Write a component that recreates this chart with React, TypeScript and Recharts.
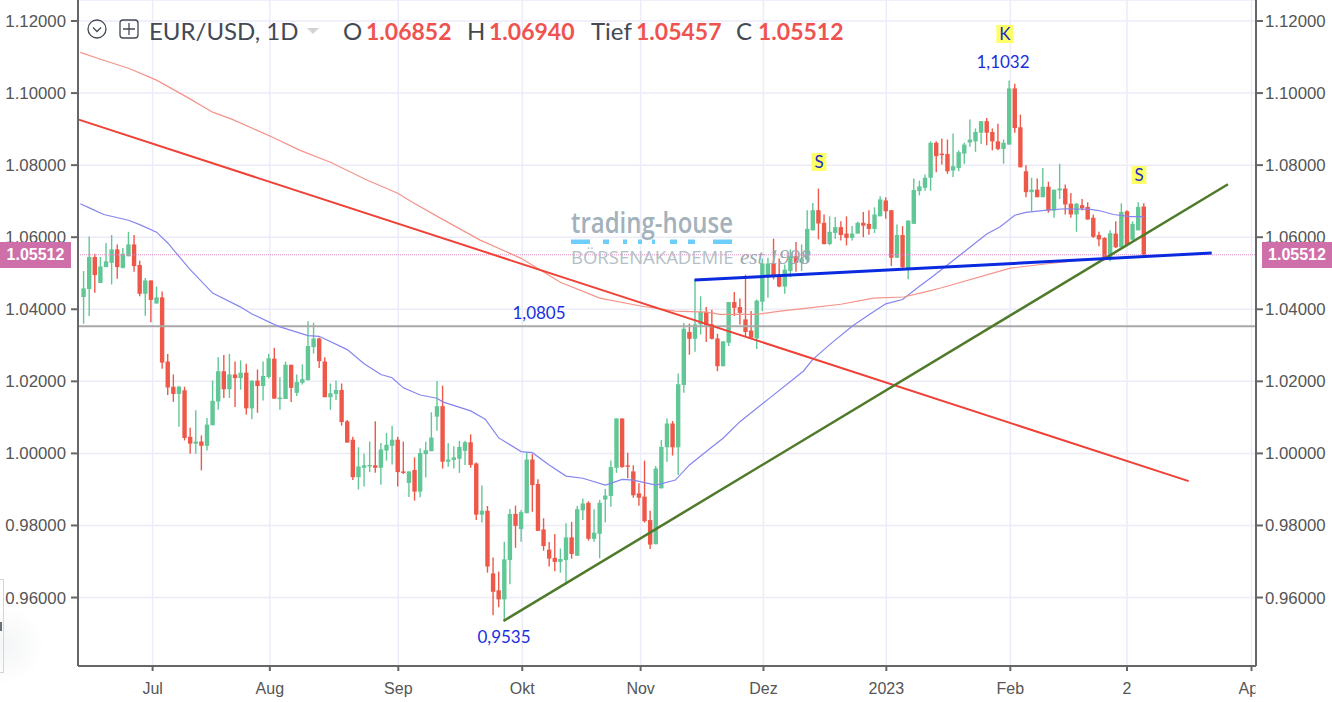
import { ComposedChart, Bar, Line, XAxis, YAxis, CartesianGrid, ReferenceLine } from "recharts";

const opens = [
  1.0434, 1.0456, 1.0545, 1.0473, 1.0517, 1.0529, 1.0566, 1.0515, 1.0547, 1.058,
  1.0523, 1.0443, 1.048, 1.0416, 1.0433, 1.0255, 1.0185, 1.0165, 1.0175, 1.0046,
  1.0027, 1.0033, 1.0021, 1.0078, 1.0144, 1.0228, 1.0178, 1.0219, 1.0209, 1.0224,
  1.0125, 1.0202, 1.0187, 1.0212, 1.0263, 1.0152, 1.0151, 1.0246, 1.0168, 1.0196,
  1.0203, 1.0295, 1.0319, 1.0255, 1.0156, 1.0165, 1.0176, 1.0089, 1.0038, 0.9934,
  0.996, 0.9965, 0.9967, 0.996, 1.0008, 1.0021, 1.0038, 0.995, 0.9918, 0.9954,
  0.9894, 0.9998, 1.0006, 1.0102, 1.0131, 0.9977, 0.9982, 0.9985, 1.0007, 1.0031,
  0.9972, 0.983, 0.9841, 0.9667, 0.962, 0.9595, 0.9704, 0.9832, 0.979, 0.9834,
  0.9983, 0.9915, 0.9789, 0.9733, 0.971, 0.9699, 0.9704, 0.9767, 0.9716, 0.9842,
  0.9863, 0.9763, 0.9777, 0.9872, 0.9882, 0.996, 1.0097, 0.9967, 0.995, 0.9889,
  0.988, 0.9815, 0.9748, 0.9903, 1.0017, 1.0083, 1.0017, 1.019, 1.0337, 1.0318,
  1.0358, 1.0393, 1.0358, 1.0319, 1.0242, 1.0307, 1.042, 1.0406, 1.0372, 1.0341,
  1.0319, 1.0421, 1.0495, 1.0527, 1.0496, 1.0463, 1.0506, 1.0547, 1.0529, 1.0538,
  1.0619, 1.0675, 1.064, 1.0581, 1.0612, 1.0628, 1.061, 1.0598, 1.061, 1.064,
  1.0637, 1.0623, 1.0658, 1.0702, 1.0675, 1.0543, 1.0606, 1.0513, 1.0637, 1.0728,
  1.0737, 1.0765, 1.0862, 1.0832, 1.0831, 1.0785, 1.0792, 1.0832, 1.0863, 1.0866,
  1.089, 1.0922, 1.0892, 1.0866, 1.0845, 1.0857, 1.1013, 1.0905, 1.0783, 1.0725,
  1.0732, 1.0711, 1.074, 1.0674, 1.073, 1.0735, 1.0693, 1.0663, 1.0689, 1.0684,
  1.0654, 1.0606, 1.0598, 1.0545, 1.061, 1.0572, 1.0672, 1.0593, 1.0619, 1.06852,
];

const closes = [
  1.0458, 1.0545, 1.0495, 1.0519, 1.0533, 1.0566, 1.0517, 1.0554, 1.058, 1.052,
  1.0443, 1.048, 1.0426, 1.0433, 1.0252, 1.0183, 1.0165, 1.0185, 1.0043, 1.0027,
  1.0033, 1.0021, 1.008, 1.0146, 1.0228, 1.0178, 1.0219, 1.0209, 1.0224, 1.0125,
  1.0202, 1.0187, 1.0215, 1.0264, 1.0152, 1.0155, 1.0246, 1.0182, 1.0198, 1.0206,
  1.0298, 1.0319, 1.0256, 1.0156, 1.0167, 1.0176, 1.0087, 1.003, 0.9934, 0.9964,
  0.9967, 0.9968, 0.996, 1.0011, 1.0024, 1.0038, 0.9948, 0.9946, 0.995, 0.9894,
  1.0001, 1.0009, 1.0044, 1.0131, 0.9977, 0.9983, 0.9989, 1.0018, 1.0031, 0.9968,
  0.983, 0.9841, 0.9686, 0.9616, 0.9595, 0.9706, 0.9832, 0.9799, 0.9837, 0.9983,
  0.9912, 0.9785, 0.9743, 0.9708, 0.9699, 0.9707, 0.9767, 0.9721, 0.9845, 0.9861,
  0.9763, 0.978, 0.9863, 0.9883, 0.9962, 1.0097, 0.9962, 0.9963, 0.9884, 0.9877,
  0.9812, 0.9747, 0.9958, 1.0018, 1.0083, 1.0017, 1.0192, 1.0346, 1.0318, 1.0358,
  1.0393, 1.0356, 1.0318, 1.0242, 1.0311, 1.042, 1.0404, 1.039, 1.0337, 1.0321,
  1.0424, 1.0527, 1.0527, 1.0492, 1.0463, 1.051, 1.0547, 1.0529, 1.0541, 1.0623,
  1.0675, 1.0638, 1.0581, 1.0615, 1.0628, 1.0606, 1.0598, 1.061, 1.064, 1.0632,
  1.0623, 1.0663, 1.0705, 1.0672, 1.0543, 1.0606, 1.0517, 1.0646, 1.0731, 1.0741,
  1.0765, 1.0862, 1.0825, 1.0829, 1.0783, 1.0797, 1.0836, 1.0857, 1.0871, 1.0892,
  1.0922, 1.089, 1.0866, 1.0845, 1.0862, 1.1013, 1.0903, 1.0794, 1.0725, 1.0732,
  1.0711, 1.074, 1.0674, 1.0732, 1.0735, 1.0691, 1.0663, 1.0693, 1.068, 1.0649,
  1.0601, 1.0594, 1.0538, 1.0611, 1.0572, 1.067, 1.0578, 1.0637, 1.0684, 1.05512,
];

const highs = [
  1.0506, 1.0602, 1.0554, 1.0545, 1.0584, 1.0606, 1.058, 1.057, 1.0615, 1.0606,
  1.0535, 1.0487, 1.048, 1.0463, 1.0449, 1.0276, 1.0219, 1.0188, 1.0185, 1.0071,
  1.012, 1.005, 1.0098, 1.0202, 1.0267, 1.0273, 1.0276, 1.0255, 1.0258, 1.0249,
  1.0202, 1.0233, 1.0255, 1.0276, 1.0293, 1.0211, 1.0255, 1.0246, 1.0219, 1.0247,
  1.0367, 1.0363, 1.0322, 1.0267, 1.0194, 1.0202, 1.0194, 1.0093, 1.0046, 1.0017,
  0.9999, 1.0033, 1.0089, 1.0029, 1.0057, 1.0076, 1.0046, 1.0033, 0.995, 0.9989,
  1.0014, 1.0032, 1.0114, 1.0201, 1.0188, 1.0028, 1.002, 1.0035, 1.0035, 1.0053,
  0.9975, 0.9911, 0.9854, 0.9711, 0.9672, 0.9755, 0.9846, 0.9855, 0.9843, 1.0002,
  0.9998, 0.9928, 0.982, 0.9754, 0.9776, 0.9736, 0.9806, 0.981, 0.9854, 0.9875,
  0.9867, 0.9845, 0.9871, 0.9901, 0.998, 1.0097, 1.0097, 1.0002, 0.9967, 0.9917,
  0.998, 0.9841, 0.9965, 1.0037, 1.0097, 1.009, 1.0222, 1.0362, 1.036, 1.0481,
  1.0436, 1.0406, 1.0399, 1.0332, 1.0311, 1.042, 1.0448, 1.043, 1.0496, 1.0395,
  1.0427, 1.0541, 1.0543, 1.0596, 1.0541, 1.0524, 1.0566, 1.0587, 1.058, 1.0675,
  1.0695, 1.0735, 1.0663, 1.0658, 1.0656, 1.0644, 1.0658, 1.0631, 1.0643, 1.067,
  1.0675, 1.0683, 1.0714, 1.0711, 1.0675, 1.0635, 1.0631, 1.0647, 1.0763, 1.0757,
  1.0774, 1.0866, 1.0866, 1.0874, 1.0871, 1.0888, 1.0841, 1.0862, 1.0927, 1.0902,
  1.0922, 1.0931, 1.0902, 1.0915, 1.0871, 1.1035, 1.1026, 1.094, 1.08, 1.0765,
  1.0763, 1.0792, 1.0754, 1.0732, 1.0804, 1.0746, 1.0723, 1.0695, 1.0706, 1.0697,
  1.0663, 1.0615, 1.06, 1.0619, 1.0644, 1.0694, 1.0675, 1.0644, 1.0697, 1.0694,
];

const lows = [
  1.036, 1.0381, 1.0446, 1.0473, 1.0517, 1.0469, 1.0485, 1.0513, 1.0547, 1.0504,
  1.0436, 1.0382, 1.0364, 1.0416, 1.0235, 1.0162, 1.0143, 1.0074, 1.0036, 0.9999,
  0.9999, 0.9953, 1.0008, 1.0078, 1.0121, 1.0154, 1.0154, 1.0129, 1.0177, 1.0108,
  1.0095, 1.0113, 1.0147, 1.0208, 1.0152, 1.0121, 1.0151, 1.0143, 1.0159, 1.0191,
  1.0203, 1.0277, 1.0237, 1.0156, 1.0121, 1.0148, 1.0077, 1.003, 0.9926, 0.99,
  0.9908, 0.9948, 0.9946, 0.9913, 0.998, 0.9969, 0.9908, 0.9943, 0.9879, 0.9869,
  0.9878, 0.9933, 1.0006, 1.0063, 0.9958, 0.9963, 0.9958, 0.9946, 0.9968, 0.996,
  0.9815, 0.9808, 0.9669, 0.9551, 0.9573, 0.9535, 0.9637, 0.9738, 0.9755, 0.9834,
  0.9838, 0.9785, 0.973, 0.9686, 0.9673, 0.9669, 0.9636, 0.9708, 0.9716, 0.9815,
  0.9758, 0.9755, 0.9709, 0.9808, 0.9852, 0.9946, 0.996, 0.9931, 0.9877, 0.9855,
  0.9808, 0.9735, 0.9748, 0.9903, 0.9977, 0.9994, 0.994, 1.0168, 1.0274, 1.0282,
  1.033, 1.0309, 1.0316, 1.0228, 1.0242, 1.0298, 1.0381, 1.0358, 1.0325, 1.0321,
  1.029, 1.0395, 1.0432, 1.0483, 1.0461, 1.0443, 1.0489, 1.0504, 1.0506, 1.0529,
  1.0619, 1.0594, 1.058, 1.0578, 1.0596, 1.0591, 1.0577, 1.0591, 1.061, 1.06,
  1.0607, 1.0612, 1.0658, 1.0651, 1.052, 1.0543, 1.0515, 1.0483, 1.0637, 1.0716,
  1.0729, 1.0729, 1.078, 1.0802, 1.0776, 1.0767, 1.0783, 1.0804, 1.0851, 1.0837,
  1.0859, 1.0855, 1.0841, 1.0841, 1.0804, 1.0857, 1.089, 1.0794, 1.0711, 1.0672,
  1.0711, 1.0711, 1.0668, 1.0654, 1.0706, 1.0663, 1.0654, 1.0615, 1.0674, 1.0649,
  1.0598, 1.0575, 1.0536, 1.0533, 1.057, 1.057, 1.0575, 1.0591, 1.0619, 1.05457,
];

// moving averages, read at the bends: [bar index, price]
const blueMa = [
  [0.4, 1.0693], [2.2, 1.068], [4.6, 1.0663], [9, 1.0647], [11, 1.0635], [14, 1.0614], [16, 1.0584],
  [18, 1.0547], [20, 1.051], [24, 1.0445], [29, 1.0406], [31, 1.0387], [34, 1.0365], [36, 1.0351],
  [41, 1.0327], [43, 1.0325], [48, 1.0288], [51, 1.0249], [54, 1.0219], [56, 1.021], [58, 1.0182],
  [61, 1.0162], [64, 1.0153], [65, 1.0143], [70, 1.0118], [72.6, 1.0095], [75, 1.0043], [79, 1.0005],
  [81, 1.0002], [84, 0.9968], [87, 0.9937], [90, 0.9931], [94, 0.9912], [95, 0.9917], [97, 0.9928],
  [99, 0.9926], [103, 0.9912], [106.5, 0.9926], [109, 0.9968], [113, 1.0018], [115, 1.0042], [118, 1.0088],
  [123, 1.015], [129.3, 1.0228], [131, 1.0261], [134, 1.0302], [138, 1.0353], [141, 1.0385], [144, 1.0415],
  [147, 1.0427], [150, 1.0464], [152, 1.0487], [155.5, 1.0529], [158.5, 1.0566], [162, 1.0609], [164.4, 1.0629],
  [167, 1.0661], [169, 1.0669], [172.7, 1.0675], [176, 1.0679], [180.5, 1.0677], [182, 1.0674], [184.6, 1.0663],
  [187.6, 1.0657], [190, 1.0657],
];

const pinkMa = [
  [0.4, 1.1113], [4, 1.1094], [9, 1.1069], [14, 1.1036], [19.5, 1.0988], [24, 1.0947], [27.5, 1.0927],
  [34.3, 1.088], [39.6, 1.0841], [45, 1.0808], [51.6, 1.0758], [57, 1.0722], [59.3, 1.07], [64.6, 1.0653],
  [71.7, 1.0592], [78.9, 1.0542], [86, 1.0475], [93, 1.0431], [100.3, 1.0409], [106.5, 1.0395], [112, 1.0392],
  [114.5, 1.0386], [121, 1.0386], [125.2, 1.0395], [130, 1.0403], [136, 1.0414], [141.8, 1.0431], [147.2, 1.0434],
  [150.7, 1.0447], [153.8, 1.0459], [166.2, 1.0514], [172, 1.0525], [178.7, 1.0536], [188, 1.0545], [190.3, 1.055],
];

const redTrend = [{ x: 0, y: 1.0927 }, { x: 198, y: 0.9923 }];
const greenTrend = [{ x: 75.85, y: 0.9535 }, { x: 205, y: 1.0747 }];
const blueTrend = [{ x: 109.9, y: 1.0481 }, { x: 202.1, y: 1.0556 }];
const grayLevel = 1.0353;
const lastPrice = 1.05512;

const priceTicks = [0.96, 0.98, 1.0, 1.02, 1.04, 1.06, 1.08, 1.1, 1.12];
const monthTicks = [13.3, 34.2, 57.1, 79.2, 100.3, 122.2, 144.1, 166.2, 187, 209.2];
const monthLabels = ["Jul", "Aug", "Sep", "Okt", "Nov", "Dez", "2023", "Feb", "2", "Ap"];

const candles = opens.map((open, n) => ({
  i: n + 1,
  open,
  close: closes[n],
  high: highs[n],
  low: lows[n],
  range: [lows[n], highs[n]],
}));
const blueRows = blueMa.map(([i, v]) => ({ i, blue: v }));
const pinkRows = pinkMa.map(([i, v]) => ({ i, pink: v }));

const UP = "#62c796";
const DOWN = "#ee5849";
const BODY = 4.4;
const AXIS_FONT = "'Liberation Sans', Arial, sans-serif";

const Candle = (props: any) => {
  const { x, y, width, height, payload } = props;
  if (!payload) return null;
  const perUnit = height / (payload.high - payload.low || 1);
  const yOf = (p: number) => y + (payload.high - p) * perUnit;
  const top = yOf(Math.max(payload.open, payload.close));
  const bottom = yOf(Math.min(payload.open, payload.close));
  const color = payload.close >= payload.open ? UP : DOWN;
  const mid = x + width / 2;
  return (
    <g>
      <line x1={mid} x2={mid} y1={y} y2={y + height} stroke={color} strokeWidth={1.4} />
      <rect x={mid - BODY / 2} y={top} width={BODY} height={Math.max(bottom - top, 1.5)} fill={color} />
    </g>
  );
};

const MonthTick = (props: any) => {
  const { x, y, payload } = props;
  const label = monthLabels[monthTicks.indexOf(payload.value)];
  if (label === "Ap") {
    return (
      <svg x={x - 13} y={y} width={17} height={30}>
        <text x={0} y={21} fontSize={16} fill="#555" fontFamily={AXIS_FONT}>{label}</text>
      </svg>
    );
  }
  return (
    <text x={x} y={y + 21} textAnchor="middle" fontSize={16} fill="#555" fontFamily={AXIS_FONT}>{label}</text>
  );
};

const Note = ({ x, y, text, bg }: { x: number; y: number; text: string; bg?: string }) => (
  <div style={{
    position: "absolute", left: x, top: y, transform: "translate(-50%, -50%)",
    fontFamily: "Lato, sans-serif", fontSize: 17, color: bg ? "#1c2bc0" : "#1a2fe0", lineHeight: "18px",
    background: bg, padding: bg ? "0 3px" : 0, whiteSpace: "nowrap",
  }}>{text}</div>
);

const PriceTag = ({ left, width }: { left: number; width: number }) => (
  <div style={{
    position: "absolute", left, top: 242, width, height: 26, background: "#cf6fa9", color: "#fff",
    fontFamily: AXIS_FONT, fontSize: 16, fontWeight: 700, lineHeight: "26px", textAlign: "center",
  }}>1.05512</div>
);

const HeadText = ({ x, text, red }: { x: number; text: string; red?: boolean }) => (
  <div style={{
    position: "absolute", left: x, top: 15, fontFamily: "Lato, sans-serif", fontSize: red ? 23 : 24, lineHeight: "32px",
    color: red ? "#ef5350" : "#434a54", fontWeight: red ? 700 : 400, whiteSpace: "nowrap",
  }}>{text}</div>
);

const App = () => (
  <div style={{ position: "absolute", left: 0, top: 0, width: 1332, height: 702, background: "#fff", overflow: "hidden" }}>
    <div style={{ position: "absolute", left: -35, top: 605, width: 80, height: 80, background: "radial-gradient(circle, #f4f5f6 0%, #ffffff 70%)" }} />
    <div style={{ position: "absolute", left: -1, top: 579, width: 3, height: 92, border: "1px solid #d2d5d9" }} />
    <div style={{ position: "absolute", left: 0, top: 622, width: 2, height: 9, background: "#6a7078" }} />

    <ComposedChart width={1332} height={702} data={candles} margin={{ top: 0, right: 0, bottom: 0, left: 0 }} style={{ position: "absolute", left: 0, top: 0 }}>
      <CartesianGrid yAxisId="left" stroke="#ecebf8" strokeWidth={1.5} />
      <XAxis
        dataKey="i"
        type="number"
        domain={[0, 210]}
        ticks={monthTicks}
        interval={0}
        allowDataOverflow
        height={36}
        stroke="#666"
        strokeWidth={2}
        tickSize={5}
        tick={<MonthTick />}
      />
      <YAxis
        yAxisId="left"
        orientation="left"
        width={78}
        domain={[0.941, 1.12583]}
        ticks={priceTicks}
        interval={0}
        allowDataOverflow
        stroke="#666"
        strokeWidth={2}
        tickSize={7}
        tickMargin={5}
        tickFormatter={(v: number) => v.toFixed(5)}
        tick={{ fontSize: 16.8, fill: "#555", fontFamily: AXIS_FONT }}
      />
      <YAxis
        yAxisId="right"
        orientation="right"
        width={76}
        domain={[0.941, 1.12583]}
        ticks={priceTicks}
        interval={0}
        allowDataOverflow
        stroke="#666"
        strokeWidth={2}
        tickSize={7}
        tickFormatter={(v: number) => v.toFixed(5)}
        tick={{ fontSize: 16.8, fill: "#555", fontFamily: AXIS_FONT }}
      />
      <ReferenceLine yAxisId="left" y={grayLevel} stroke="#a9a9a9" strokeWidth={2} />
      <ReferenceLine yAxisId="left" y={lastPrice} stroke="#e08cc0" strokeDasharray="1 1" strokeWidth={1} />
      <Bar yAxisId="left" dataKey="range" barSize={4} shape={<Candle />} isAnimationActive={false} />
      <Line yAxisId="left" data={blueRows} dataKey="blue" stroke="#8585f0" strokeWidth={1.2} dot={false} isAnimationActive={false} />
      <Line yAxisId="left" data={pinkRows} dataKey="pink" stroke="#f59389" strokeWidth={1.2} dot={false} isAnimationActive={false} />
      <ReferenceLine yAxisId="left" segment={redTrend} stroke="#ef4136" strokeWidth={2} />
      <ReferenceLine yAxisId="left" segment={greenTrend} stroke="#4f7a2a" strokeWidth={2.5} />
      <ReferenceLine yAxisId="left" segment={blueTrend} stroke="#0a2ae0" strokeWidth={3} />
    </ComposedChart>

    <PriceTag left={0} width={71} />
    <PriceTag left={1262} width={70} />

    <Note x={819} y={162} text="S" bg="#ffff66" />
    <Note x={1005} y={34} text="K" bg="#ffff66" />
    <Note x={1139} y={175} text="S" bg="#ffff66" />
    <Note x={1003} y={62} text="1,1032" />
    <Note x={504} y={637} text="0,9535" />
    <Note x={539} y={313} text="1,0805" />

    <div style={{ position: "absolute", left: 571, top: 204, color: "#a2b1bc", fontFamily: "'Open Sans', sans-serif", fontWeight: 600, fontSize: 28, lineHeight: "36px", transform: "scaleX(0.855)", transformOrigin: "left", whiteSpace: "nowrap" }}>trading-house</div>
    <svg style={{ position: "absolute", left: 571, top: 239 }} width={162} height={6}>
      {[[0, 19], [32, 6], [52, 4], [67, 4], [81, 3], [99, 7], [117, 7], [142, 19]].map(([x, w]) => (
        <rect key={x} x={x} y={0.5} width={w} height={4.5} fill="#6dcdfb" />
      ))}
    </svg>
    <div style={{ position: "absolute", left: 571, top: 245, color: "#b4bfc7", fontFamily: "'Open Sans', sans-serif", fontSize: 18.5, lineHeight: "24px", whiteSpace: "nowrap" }}>BÖRSENAKADEMIE</div>
    <div style={{ position: "absolute", left: 740, top: 245, color: "#9aa6ae", fontFamily: "'Liberation Serif', serif", fontStyle: "italic", fontSize: 21, lineHeight: "24px", whiteSpace: "nowrap" }}>est 1998</div>

    <svg style={{ position: "absolute", left: 85, top: 17 }} width={240} height={26}>
      <circle cx={12} cy={12} r={9} fill="none" stroke="#434a54" strokeWidth={1.3} />
      <path d="M8 10.5 L12 14.5 L16 10.5" fill="none" stroke="#434a54" strokeWidth={1.3} />
      <rect x={35} y={3} width={18} height={18} rx={3} fill="none" stroke="#434a54" strokeWidth={1.3} />
      <path d="M44 6 V18 M38 12 H50" stroke="#434a54" strokeWidth={1.3} />
      <path d="M222 11 L234 11 L228 17 Z" fill="#d3d3d3" />
    </svg>
    <HeadText x={149} text="EUR/USD, 1D" />
    <HeadText x={343} text="O" />
    <HeadText x={366} text="1.06852" red />
    <HeadText x={467} text="H" />
    <HeadText x={489} text="1.06940" red />
    <HeadText x={591} text="Tief" />
    <HeadText x={636} text="1.05457" red />
    <HeadText x={736} text="C" />
    <HeadText x={758} text="1.05512" red />
  </div>
);

export default App;
